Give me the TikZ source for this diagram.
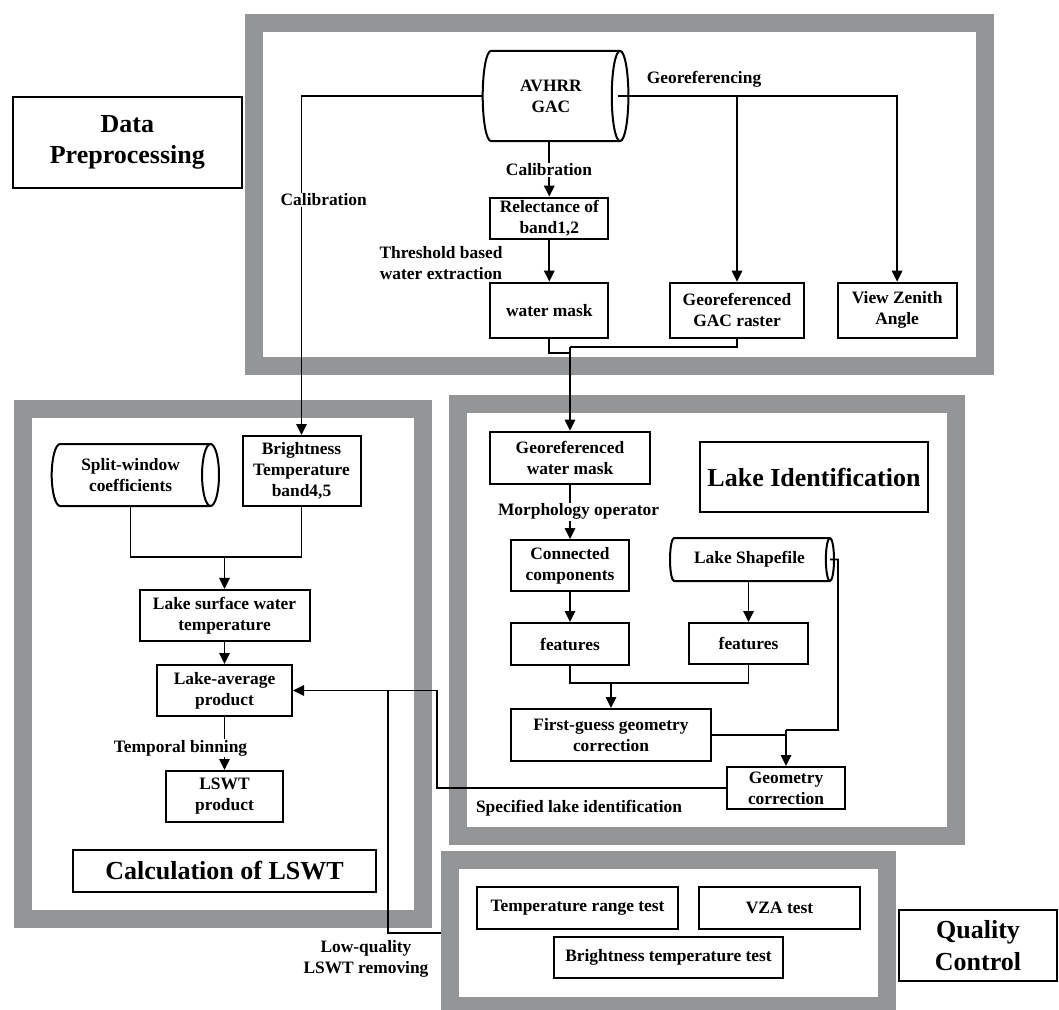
\documentclass[tikz,border=0pt]{standalone}
\usepackage{fontspec}
\setmainfont{Liberation Serif}
\usetikzlibrary{arrows.meta,shapes.geometric}
\definecolor{framegray}{RGB}{148,149,151}
\newcommand\normaltext{\bfseries\fontsize{17.4}{21}\selectfont}
\newcommand\bigtext{\bfseries\fontsize{26}{31.7}\selectfont}
\tikzset{
  panel/.style={draw=framegray,line width=18pt,inner sep=0pt},
  box/.style={draw,line width=2pt,fill=white,align=center,inner sep=0pt,font=\normaltext},
  cyl/.style={box,shape=cylinder,aspect=0.51,anchor=west},
  headbox/.style={draw,line width=2pt,fill=white,align=center,inner sep=0pt,font=\bigtext},
  lbl/.style={fill=white,inner sep=1pt,align=center,font=\normaltext},
  link/.style={line width=1.7pt},
  flow/.style={link,-{Triangle[length=11pt,width=10.5pt]}},
}
\begin{document}
\begin{tikzpicture}[x=1pt,y=-1pt]
    \useasboundingbox (0,0) rectangle (1059,1009);
    % frames
    \node[panel,minimum width=730.5,minimum height=342.7] (dppanel) at (619.5,194.2) {};
    \node[panel,minimum width=400,minimum height=510.5] (lswtpanel) at (222.5,663.8) {};
    \node[panel,minimum width=498.5,minimum height=432.5] (lipanel) at (706.8,620.2) {};
    \node[panel,minimum width=437,minimum height=146] (qcpanel) at (668.5,933) {};
    % titles
    \node[headbox,minimum width=229,minimum height=91] (dptitle) at (127.3,142.5) {Data\\Preprocessing};
    \node[headbox,minimum width=303,minimum height=42] (lswttitle) at (224.5,871) {Calculation of LSWT};
    \node[headbox,minimum width=228,minimum height=70] (lititle) at (814,477) {Lake Identification};
    \node[headbox,minimum width=158,minimum height=71] (qctitle) at (978,945.5) {Quality\\Control};
    % data preprocessing
    \node[cyl,minimum height=145.7,minimum width=90.3] (avhrr) at (481.7,96) {AVHRR\\GAC};
    \node[box,minimum width=118,minimum height=41.3] (refl) at (549.3,218.3) {Relectance of\\band1,2};
    \node[box,minimum width=118,minimum height=55.3] (wmask) at (549.3,310.3) {water mask};
    \node[box,minimum width=133.5,minimum height=55] (gacr) at (737,310.2) {Georeferenced\\GAC raster};
    \node[box,minimum width=119,minimum height=55] (vza) at (897.1,310.2) {View Zenith\\Angle};
    % calculation of LSWT
    \node[cyl,minimum height=167.3,minimum width=62] (split) at (50.7,475) {Split-window\\coefficients};
    \node[box,minimum width=118,minimum height=70] (bt) at (301.5,471) {Brightness\\Temperature\\band4,5};
    \node[box,minimum width=170,minimum height=50.7] (lswtemp) at (224.5,615.3) {Lake surface water\\temperature};
    \node[box,minimum width=135,minimum height=51] (lavg) at (224.5,690.5) {Lake-average\\product};
    \node[box,minimum width=117,minimum height=51] (lswtp) at (224.5,796.5) {LSWT\\product};
    % lake identification
    \node[box,minimum width=160,minimum height=52.6] (gwm) at (570,458) {Georeferenced\\water mask};
    \node[box,minimum width=118,minimum height=51.3] (conn) at (570,565.7) {Connected\\components};
    \node[box,minimum width=118,minimum height=42] (feat1) at (570,644) {features};
    \node[cyl,minimum height=164,minimum width=43] (lshp) at (669,559.5) {Lake Shapefile};
    \node[box,minimum width=119,minimum height=41] (feat2) at (748.5,643.5) {features};
    \node[box,minimum width=200,minimum height=52] (fgc) at (611,735) {First-guess geometry\\correction};
    \node[box,minimum width=118,minimum height=42] (geoc) at (786,788) {Geometry\\correction};
    % quality control
    \node[box,minimum width=201,minimum height=42] (trt) at (577.5,908) {Temperature range test};
    \node[box,minimum width=161,minimum height=42] (vzat) at (779.5,908) {VZA test};
    \node[box,minimum width=229,minimum height=41] (btt) at (668.5,957.5) {Brightness temperature test};
    % links
    \coordinate (avhrrR) at ([xshift=-11.5pt]avhrr.east);
    \draw[flow] (avhrr.west) -| (bt.north);
    \draw[flow] (refl.north |- avhrr.south) -- (refl.north);
    \draw[flow] (refl) -- (wmask);
    \draw[flow] (avhrrR) -| (vza.north);
    \draw[flow] (gacr.north |- avhrrR) -- (gacr.north);
    \coordinate (gj) at (570,346.7);
    \coordinate (wj) at (570,353);
    \draw[link] (wmask.south) |- (wj);
    \draw[link] (gacr.south) |- (gj);
    \draw[flow] (gj) -- (gwm.north);
    %
    \coordinate (sj) at (224.5,556.7);
    \draw[link] (split.south) |- (sj);
    \draw[link] (bt.south) |- (sj);
    \draw[flow] (sj) -- (lswtemp.north);
    \draw[flow] (lswtemp) -- (lavg);
    \draw[flow] (lavg) -- (lswtp);
    %
    \draw[flow] (gwm) -- (conn);
    \draw[flow] (conn) -- (feat1);
    \draw[flow] (feat2.north |- lshp.south) -- (feat2.north);
    \coordinate (fj) at (611,683);
    \draw[link] (feat1.south) |- (fj);
    \draw[link] (feat2.south) |- (fj);
    \draw[flow] (fj) -- (fgc.north);
    \coordinate (lshpR) at ([xshift=-5pt]lshp.east);
    \coordinate (lshpT) at (838,559.5);
    \coordinate (gcj) at (786,730);
    \draw[link] (lshpR) -- (lshpT) |- (gcj);
    \draw[link] (fgc.east) -- (fgc.east -| gcj);
    \draw[flow] (gcj) -- (geoc.north);
    \coordinate (slj) at (437,788);
    \draw[flow] (geoc.west) -- (slj) |- (lavg.east);
    \coordinate (lqj) at (388,690);
    \draw[link] (qcpanel.west) -| (lqj);
    % link labels
    \node[lbl] (cal1) at (323.7,200) {Calibration};
    \node[lbl] (cal2) at (549,170) {Calibration};
    \node[lbl] (georef) at (704,79) {Georeferencing};
    \node[lbl] (thresh) at (441,263.5) {Threshold based\\water extraction};
    \node[lbl] (morph) at (578.5,511.7) {Morphology operator};
    \node[lbl] (tbin) at (180.5,748) {Temporal binning};
    \node[lbl] (speclake) at (579,808) {Specified lake identification};
    \node[lbl] (lowq) at (366,958.5) {Low-quality\\LSWT removing};
\end{tikzpicture}
\end{document}
